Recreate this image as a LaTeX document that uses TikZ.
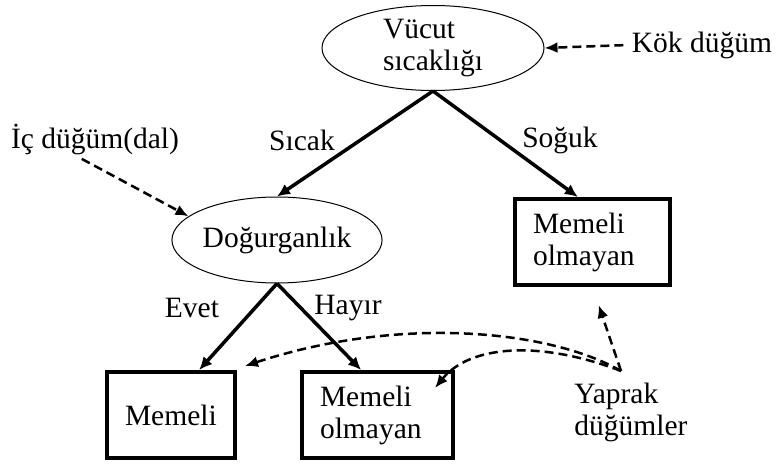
\documentclass[tikz,border=0pt]{standalone}
\usepackage{fontspec}
\setmainfont{Liberation Serif}
\usetikzlibrary{arrows.meta,shapes.geometric}
\tikzset{
  inner/.style={ellipse,draw,line width=1pt,inner sep=0pt,align=left},
  leaf/.style={draw,line width=4pt,minimum height=86pt,inner xsep=18pt,align=left},
  branch/.style={line width=3.5pt,-{Latex[length=13pt,width=12pt]}},
  pointer/.style={line width=2.5pt,dash pattern=on 9pt off 5pt,-{Latex[length=13pt,width=11pt]}},
}
\begin{document}
\begin{tikzpicture}[x=1pt,y=-1pt,font=\fontsize{29.5}{32}\selectfont]
    \useasboundingbox (0,0) rectangle (777,466);
    \node[inner,minimum width=222pt,minimum height=85pt] (root) at (433,48) {Vücut\\sıcaklığı};
    \node[inner,minimum width=168pt,minimum height=86pt] (dog) at (277,240) {Doğurganlık};
    \node[leaf,text width=92pt] (mem) at (171,415) {Memeli};
    \node[leaf,text width=115pt] (mid) at (377.5,415) {Memeli\\olmayan};
    \node[leaf,text width=119pt] (rbox) at (592.5,242) {Memeli\\olmayan};
    \node (sicak) at (302,140) {Sıcak};
    \node (soguk) at (560,140) {Soğuk};
    \node (evet) at (192,308) {Evet};
    \node (hayir) at (348,308) {Hayır};
    \node (kok) at (702,45) {Kök düğüm};
    \node (ic) at (95,140) {İç düğüm(dal)};
    \node[align=left] (yaprak) at (631,412) {Yaprak\\düğümler};
    \coordinate (ysrc) at (621,371);
    \draw[branch] (root.south) -- (dog.north);
    \draw[branch] (root.south) -- (rbox.108);
    \draw[branch] (dog.south) -- (mem.58);
    \draw[branch] (dog.south) -- (mid.110);
    \draw[pointer,shorten <=5pt] (kok.west) -- (root.east);
    \draw[pointer] (ic.235) -- (dog.165);
    \draw[pointer,shorten >=19pt] (ysrc) -- (rbox.south);
    \draw[pointer] (ysrc) .. controls (550,330) and (400,315) .. ([xshift=8pt,yshift=4pt]mem.north east);
    \draw[pointer] (ysrc) .. controls (540,340) and (470,345) .. ([xshift=-20pt,yshift=-18pt]mid.north east);
%    \draw[help lines] (0,0) grid (777,466);
\end{tikzpicture}
\end{document}
